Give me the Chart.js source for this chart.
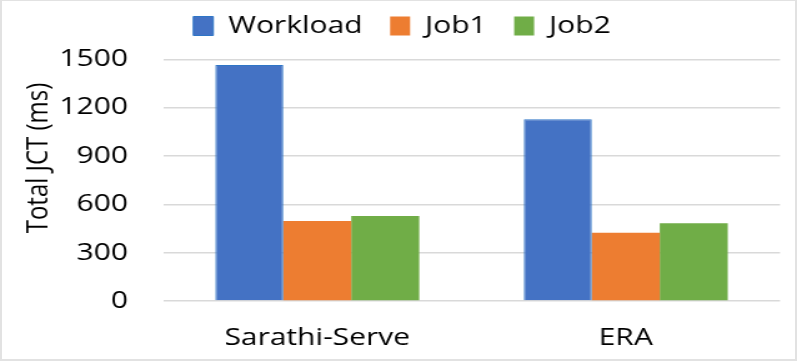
<!DOCTYPE html>
<html>
<head>
<meta charset="utf-8">
<script src="https://cdn.jsdelivr.net/npm/chart.js@4/dist/chart.umd.min.js"></script>
<style>
  html, body { margin: 0; padding: 0; background: #ffffff; }
  body { width: 797px; height: 361px; position: relative; overflow: hidden; }
  #wrap { position: absolute; left: 0; top: 0; width: 638px; height: 361px;
          transform: scaleX(1.24922); transform-origin: 0 0; }
  #frame { position: absolute; left: 0; top: 0; width: 797px; height: 361px;
           box-sizing: border-box; border: 2px solid #e2e2e2; border-top-width: 1px; pointer-events: none; }
</style>
</head>
<body>
<div id="wrap"><canvas id="c"></canvas></div>
<div id="frame"></div>
<script>
const categories = ['Sarathi-Serve', 'ERA'];
const seriesNames = ['Workload', 'Job1', 'Job2'];
const workload = [1465, 1128];
const job1 = [496, 424];
const job2 = [528, 482];
const yTicks = [0, 300, 600, 900, 1200, 1500];
const yTitle = 'Total JCT (ms)';

Chart.defaults.font.family = "'Open Sans', sans-serif";
Chart.defaults.font.size = 24;
Chart.defaults.color = '#000000';

const legendSpace = {
  id: 'legendSpace',
  beforeInit(chart) {
    const fit = chart.legend.fit;
    chart.legend.fit = function () { fit.call(this); this.height += 11.3; };
  }
};

const yTitlePlugin = {
  id: 'yTitlePlugin',
  afterDraw(chart) {
    const ctx = chart.ctx;
    const area = chart.chartArea;
    ctx.save();
    ctx.translate(37.6, area.top + 98.7);
    ctx.rotate(-Math.PI / 2);
    ctx.font = "24px 'Open Sans'";
    ctx.fillStyle = '#000000';
    ctx.textAlign = 'center';
    ctx.textBaseline = 'alphabetic';
    ctx.fillText(yTitle, 0, 0);
    ctx.restore();
  }
};

new Chart(document.getElementById('c'), {
  type: 'bar',
  data: {
    labels: categories,
    datasets: [
      { label: seriesNames[0], data: workload, backgroundColor: '#4472C4', borderColor: '#2E75C6', borderWidth: 1 },
      { label: seriesNames[1], data: job1, backgroundColor: '#ED7D31' },
      { label: seriesNames[2], data: job2, backgroundColor: '#70AD47' }
    ]
  },
  options: {
    responsive: true,
    maintainAspectRatio: false,
    animation: false,
    layout: { padding: { top: -8, left: 19.2, right: 13.6, bottom: 0 } },
    datasets: { bar: { barPercentage: 1.0, categoryPercentage: 0.661 } },
    plugins: {
      legend: {
        position: 'top',
        labels: { boxWidth: 16, boxHeight: 19, padding: 22, color: '#000000', font: { size: 24 } }
      },
      tooltip: { enabled: false }
    },
    scales: {
      x: {
        grid: { display: false, drawTicks: false },
        border: { display: false },
        ticks: { padding: 23, color: '#000000', font: { size: 24 } },
        afterFit(s) { s.height = 60; }
      },
      y: {
        min: 0, max: 1500,
        afterBuildTicks(s) { s.ticks = yTicks.map(v => ({ value: v })); },
        grid: { color: '#d9d9d9', lineWidth: 1.5, drawTicks: false },
        border: { display: false },
        ticks: { padding: 28, color: '#000000', font: { size: 24 }, callback: v => String(v) },
        afterFit(s) { s.width = 111.3; }
      }
    }
  },
  plugins: [legendSpace, yTitlePlugin]
});
</script>
</body>
</html>
